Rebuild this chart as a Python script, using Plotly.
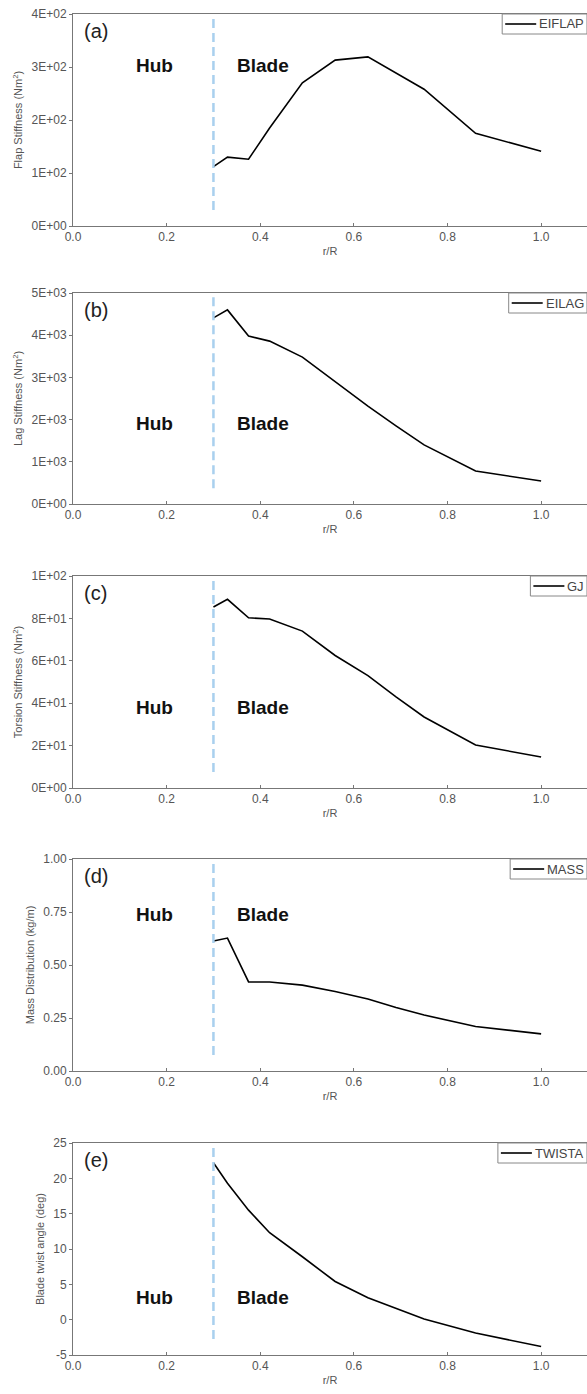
import plotly.graph_objects as go

# ---------------- data ----------------
r_R = [0.30, 0.33, 0.375, 0.42, 0.49, 0.56, 0.63, 0.69, 0.75, 0.86, 1.00]
eiflap = [112, 130, 126, 185, 270, 313, 319, 288, 258, 175, 141]
eilag = [4410, 4600, 3980, 3860, 3480, 2900, 2320, 1850, 1400, 780, 545]
gj = [85.4, 89.0, 80.3, 79.7, 74.0, 62.5, 53.0, 43.0, 33.5, 20.3, 14.6]
mass = [0.613, 0.627, 0.420, 0.420, 0.405, 0.375, 0.340, 0.300, 0.264, 0.210, 0.175]
twista = [22.2, 19.3, 15.5, 12.3, 8.9, 5.4, 3.1, 1.6, 0.1, -1.9, -3.8]

series_names = ["EIFLAP", "EILAG", "GJ", "MASS", "TWISTA"]
series_values = [eiflap, eilag, gj, mass, twista]
panel_labels = ["(a)", "(b)", "(c)", "(d)", "(e)"]
y_titles = ["Flap Stiffness (Nm<sup>2</sup>)", "Lag Stiffness (Nm<sup>2</sup>)",
            "Torsion Stiffness (Nm<sup>2</sup>)", "Mass Distribution (kg/m)",
            "Blade twist angle (deg)"]
y_ticks = [[0, 100, 200, 300, 400],
           [0, 1000, 2000, 3000, 4000, 5000],
           [0, 20, 40, 60, 80, 100],
           [0.0, 0.25, 0.5, 0.75, 1.0],
           [-5, 0, 5, 10, 15, 20, 25]]
y_fmt = ["E", "E", "E", "f2", "int"]
x_ticks = [0.0, 0.2, 0.4, 0.6, 0.8, 1.0]
hub_blade_y = [303, 1900, 38, 0.74, 3.2]
hub_x, blade_x, boundary_x = 0.174, 0.405, 0.30

# ---------------- layout geometry ----------------
W, H = 587, 1394
tops = [14, 293, 576, 859, 1143]
bots = [226, 504, 788, 1071, 1355]
x_left_px = 73
plot_w = W - x_left_px

# approximate Arial advance widths (em) for legend box sizing
CW = {"E": .667, "I": .278, "F": .611, "L": .556, "A": .667, "P": .667,
      "G": .778, "J": .5, "M": .833, "S": .667, "T": .611, "W": .944}
LEG_FONT = 13

def fmt(v, kind):
    if kind == "E":
        return "{:.0E}".format(v)
    if kind == "f2":
        return "{:.2f}".format(v)
    return str(int(v))

gray_txt = "#555555"
axis_col = "#777777"
font_family = "Liberation Sans, Arial, sans-serif"

fig = go.Figure()
layout = dict(
    width=W, height=H,
    margin=dict(l=0, r=0, t=0, b=0, autoexpand=False),
    paper_bgcolor="white", plot_bgcolor="white",
    font=dict(family=font_family, color=gray_txt, size=12),
    showlegend=False,
)
annotations = []
shapes = []

for i in range(5):
    n = "" if i == 0 else str(i + 1)
    xa, ya = "x" + n, "y" + n
    fig.add_trace(go.Scatter(
        x=r_R, y=series_values[i], mode="lines", name=series_names[i],
        line=dict(color="black", width=1.6), xaxis=xa, yaxis=ya))
    ydom = [1 - bots[i] / H, 1 - tops[i] / H]
    ph = bots[i] - tops[i]
    yt = y_ticks[i]
    layout["xaxis" + n] = dict(
        domain=[x_left_px / W, 1.0], range=[0, 1.098], anchor=ya, automargin=False,
        tickvals=x_ticks, ticktext=["{:.1f}".format(v) for v in x_ticks],
        ticks="inside", ticklen=3, tickcolor=axis_col,
        showline=True, linecolor=axis_col, linewidth=1, mirror=True,
        showgrid=False, zeroline=False,
        tickfont=dict(size=12, color=gray_txt),
        title=dict(text="r/R", font=dict(size=11, color=gray_txt), standoff=3),
    )
    layout["yaxis" + n] = dict(
        domain=ydom, range=[yt[0], yt[-1]], anchor=xa, automargin=False,
        tickvals=yt, ticktext=[fmt(v, y_fmt[i]) for v in yt],
        ticks="outside", ticklen=3, tickcolor=axis_col,
        showline=True, linecolor=axis_col, linewidth=1, mirror=True,
        showgrid=False, zeroline=False,
        tickfont=dict(size=12, color=gray_txt),
        title=dict(text=y_titles[i], font=dict(size=11, color=gray_txt), standoff=6),
    )
    # legend box (top-right, compact like the original)
    tw = sum(CW.get(c, .6) for c in series_names[i]) * LEG_FONT
    box_w = tw + 32 + 8
    box_h = 20
    x0 = 1 - box_w / plot_w
    shapes.append(dict(
        type="rect", xref=xa + " domain", yref=ya + " domain",
        x0=x0, x1=1.0, y0=1 - box_h / ph, y1=1.0,
        line=dict(color="#888888", width=1), fillcolor="white", layer="above"))
    shapes.append(dict(
        type="line", xref=xa + " domain", yref=ya + " domain",
        x0=x0 + 3 / plot_w, x1=x0 + 34 / plot_w,
        y0=1 - (box_h / 2) / ph, y1=1 - (box_h / 2) / ph,
        line=dict(color="black", width=1.6), layer="above"))
    annotations.append(dict(
        text=series_names[i], xref=xa + " domain", yref=ya + " domain",
        x=x0 + 35 / plot_w, y=1 - (box_h / 2) / ph, xanchor="left", yanchor="middle",
        showarrow=False, font=dict(size=LEG_FONT, color="#444444")))
    # dashed boundary line
    shapes.append(dict(
        type="line", xref=xa, yref=ya + " domain",
        x0=boundary_x, x1=boundary_x, y0=0.075, y1=1.0,
        line=dict(color="#a9d0ee", width=2.5, dash="9px,5px")))
    # panel label
    annotations.append(dict(
        text=panel_labels[i], xref=xa + " domain", yref=ya + " domain",
        x=0.018, y=0.98, xanchor="left", yanchor="top", showarrow=False,
        font=dict(size=20, color="#222222")))
    for txt, xv in (("Hub", hub_x), ("Blade", blade_x)):
        annotations.append(dict(
            text="<b>" + txt + "</b>", xref=xa, yref=ya,
            x=xv, y=hub_blade_y[i], showarrow=False,
            font=dict(size=19, color="#111111")))

layout["annotations"] = annotations
layout["shapes"] = shapes
fig.update_layout(**layout)
fig.write_html("out.html")
